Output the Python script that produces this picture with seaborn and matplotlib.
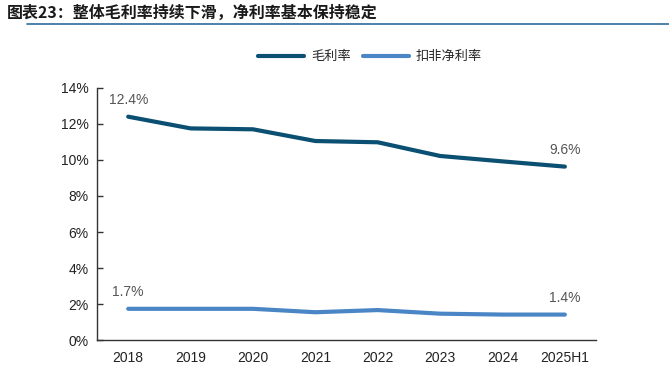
import matplotlib
matplotlib.use("Agg")
import matplotlib.pyplot as plt
import seaborn as sns
import pandas as pd
import numpy as np

# data
years = ["2018", "2019", "2020", "2021", "2022", "2023", "2024", "2025H1"]
gross_margin = [12.4, 11.75, 11.7, 11.05, 10.98, 10.22, 9.92, 9.63]
net_margin = [1.74, 1.74, 1.74, 1.55, 1.67, 1.47, 1.42, 1.42]
series_names = ["毛利率", "扣非净利率"]
title = "图表23：整体毛利率持续下滑，净利率基本保持稳定"

sns.set_theme(style="white")
plt.rcParams["font.family"] = ["Liberation Sans", "Noto Sans CJK SC", "DejaVu Sans"]

df = pd.DataFrame({
    "x": list(range(len(years))) * 2,
    "value": gross_margin + net_margin,
    "series": [series_names[0]] * len(years) + [series_names[1]] * len(years),
})
palette = {series_names[0]: "#0B4F72", series_names[1]: "#4A86C5"}

fig = plt.figure(figsize=(6.69, 3.87), dpi=100)
ax = fig.add_axes([0.145, 0.121, 0.746, 0.652])

sns.lineplot(data=df, x="x", y="value", hue="series", palette=palette,
             linewidth=3, ax=ax, legend=False)

ax.set_xlim(-0.5, len(years) - 0.5)
ax.set_ylim(0, 14)
ax.set_yticks(np.arange(0, 15, 2))
ax.set_yticklabels([f"{v}%" for v in range(0, 15, 2)], fontsize=10, color="#222222")
ax.set_xticks(range(len(years)))
ax.set_xticklabels(years, fontsize=10, color="#222222")
ax.set_xticks(np.arange(0.5, len(years) - 0.5, 1), minor=True)
ax.tick_params(axis="x", which="major", length=0, pad=8)
ax.tick_params(axis="x", which="minor", direction="in", length=4, color="#333333", width=1)
ax.tick_params(axis="y", direction="in", length=4, color="#333333", width=1, left=True, pad=6)
ax.set_xlabel("")
ax.set_ylabel("")
for s in ["top", "right"]:
    ax.spines[s].set_visible(False)
for s in ["left", "bottom"]:
    ax.spines[s].set_color("#333333")
    ax.spines[s].set_linewidth(1)

# end point labels
lab_col = "#555555"
for vals in (gross_margin, net_margin):
    ax.text(0, vals[0] + 0.55, f"{vals[0]:.1f}%", ha="center", va="bottom", fontsize=10, color=lab_col)
    ax.text(len(years) - 1, vals[-1] + 0.55, f"{vals[-1]:.1f}%", ha="center",
            va="bottom", fontsize=10, color=lab_col)

# legend
handles = [plt.Line2D([], [], color=palette[n], lw=3) for n in series_names]
fig.legend(handles, series_names, loc="center", bbox_to_anchor=(0.553, 0.853), ncol=2,
           frameon=False, handlelength=3.5, handletextpad=0.5, columnspacing=0.9,
           prop={"family": ["Noto Sans CJK SC"], "size": 9.5})

# title and rule beneath it
fig.text(0.01, 0.968, title, fontsize=11.5, fontweight="bold", style="italic",
         family=["Noto Sans CJK SC", "DejaVu Sans"], va="center", ha="left", color="#1a1a1a")
fig.add_artist(plt.Line2D([0.04, 1.0], [0.938, 0.938], color="#2F6C9A", lw=1.2,
                          transform=fig.transFigure))

fig.savefig("out.png", dpi=100)
